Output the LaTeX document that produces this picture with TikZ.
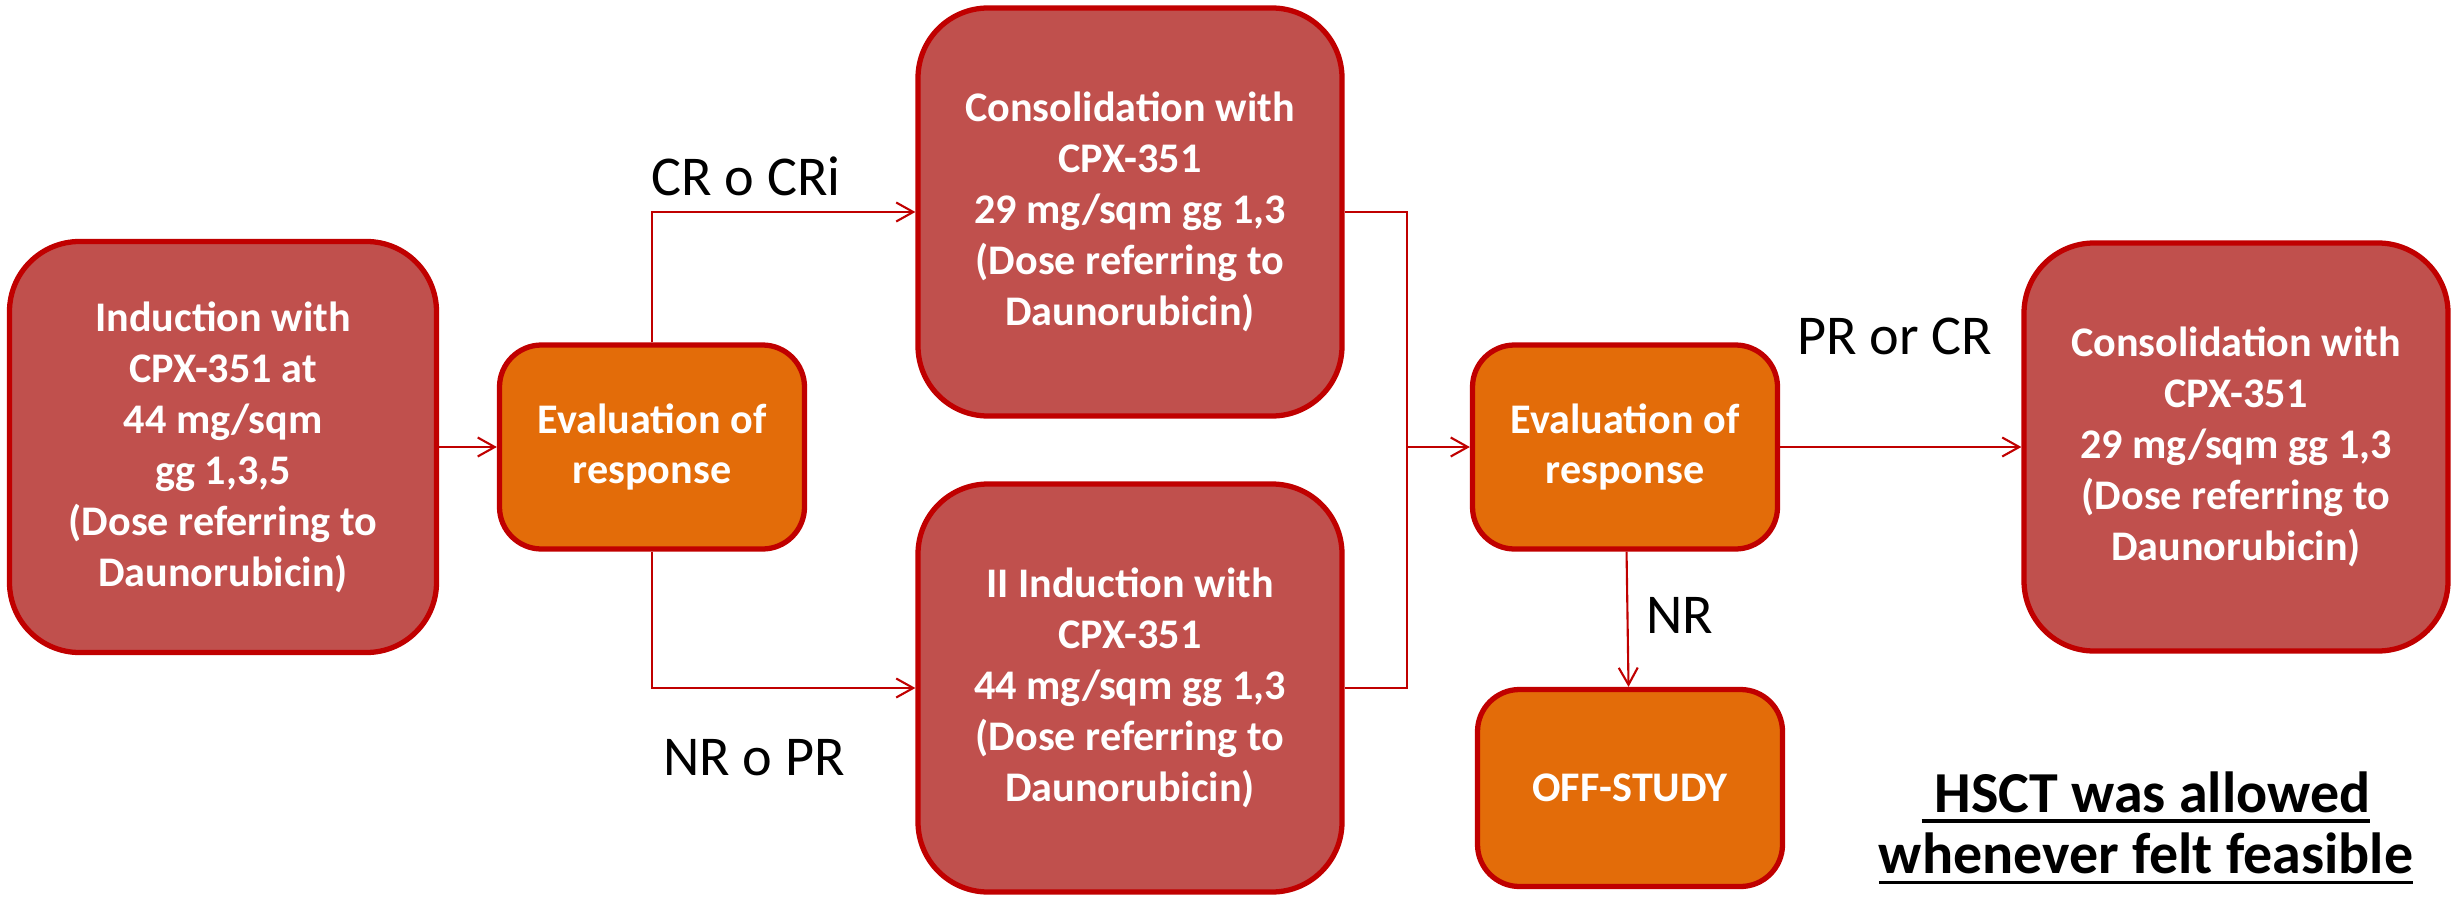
\documentclass[tikz,border=0pt]{standalone}
\usepackage{fontspec}
\setmainfont{Carlito}
\usetikzlibrary{arrows.meta}

\definecolor{boxred}{HTML}{C0504D}
\definecolor{edgered}{HTML}{C00000}
\definecolor{evalorange}{HTML}{E36C09}

\newcommand{\thickul}[1]{\setbox0\hbox{#1}\rlap{\rule[-3pt]{\wd0}{1.1pt}}\box0}

\begin{document}
\begin{tikzpicture}[
	>={Straight Barb[length=1.7mm, width=1.9mm]},
	treat/.style={draw=edgered, line width=1.5pt, fill=boxred, rounded corners=0.7cm, text=white, font=\fontsize{12}{14.5}\selectfont\bfseries, align=center, minimum width=4.24cm, minimum height=4.08cm, inner sep=0pt},
	evalbox/.style={treat, fill=evalorange, rounded corners=0.42cm, minimum width=3.05cm, minimum height=2.04cm},
	flow/.style={draw=edgered, line width=0.6pt},
	lab/.style={font=\fontsize{16}{19}\selectfont}
]
	\useasboundingbox (0,0) rectangle (24.6, 8.97);

	\node [treat, minimum width=4.27cm, minimum height=4.11cm] (ind1) at (2.23, 4.50) {Induction with\\CPX-351 at\\44 mg/sqm\\gg 1,3,5\\(Dose referring to\\Daunorubicin)};
	\node [evalbox] (eval1) at (6.52, 4.50) {Evaluation of\\response};
	\node [treat] (cons1) at (11.30, 6.85) {Consolidation with\\CPX-351\\29 mg/sqm gg 1,3\\(Dose referring to\\Daunorubicin)};
	\node [treat] (ind2) at (11.30, 2.09) {II Induction with\\CPX-351\\44 mg/sqm gg 1,3\\(Dose referring to\\Daunorubicin)};
	\node [evalbox] (eval2) at (16.25, 4.50) {Evaluation of\\response};
	\node [evalbox, minimum height=1.97cm] (off) at (16.30, 1.09) {OFF-STUDY};
	\node [treat] (cons2) at (22.36, 4.50) {Consolidation with\\CPX-351\\29 mg/sqm gg 1,3\\(Dose referring to\\Daunorubicin)};
	\coordinate (merge) at (14.07, 4.50);

	\draw [flow, ->] (ind1) -- (eval1);
	\draw [flow, ->] (eval1) |- (cons1);
	\draw [flow, ->] (eval1) |- (ind2);
	\draw [flow] (cons1) -| (merge) |- (ind2);
	\draw [flow, ->] (merge) -- (eval2);
	\draw [flow, ->] (eval2) -- (cons2);
	\draw [flow, ->] (eval2) -- (off);

	\node [lab] (crlab) at (7.46, 7.21) {CR o CRi};
	\node [lab] (nrlab) at (7.54, 1.39) {NR o PR};
	\node [lab] (prlab) at (18.95, 5.61) {PR or CR};
	\node [lab] (nrout) at (16.80, 2.82) {NR};
	\node [font=\fontsize{16.5}{17.5}\selectfont\bfseries, align=center] (hsct) at (21.46, 0.69) {\thickul{\ HSCT was allowed}\\\thickul{whenever felt feasible}};
\end{tikzpicture}
\end{document}
